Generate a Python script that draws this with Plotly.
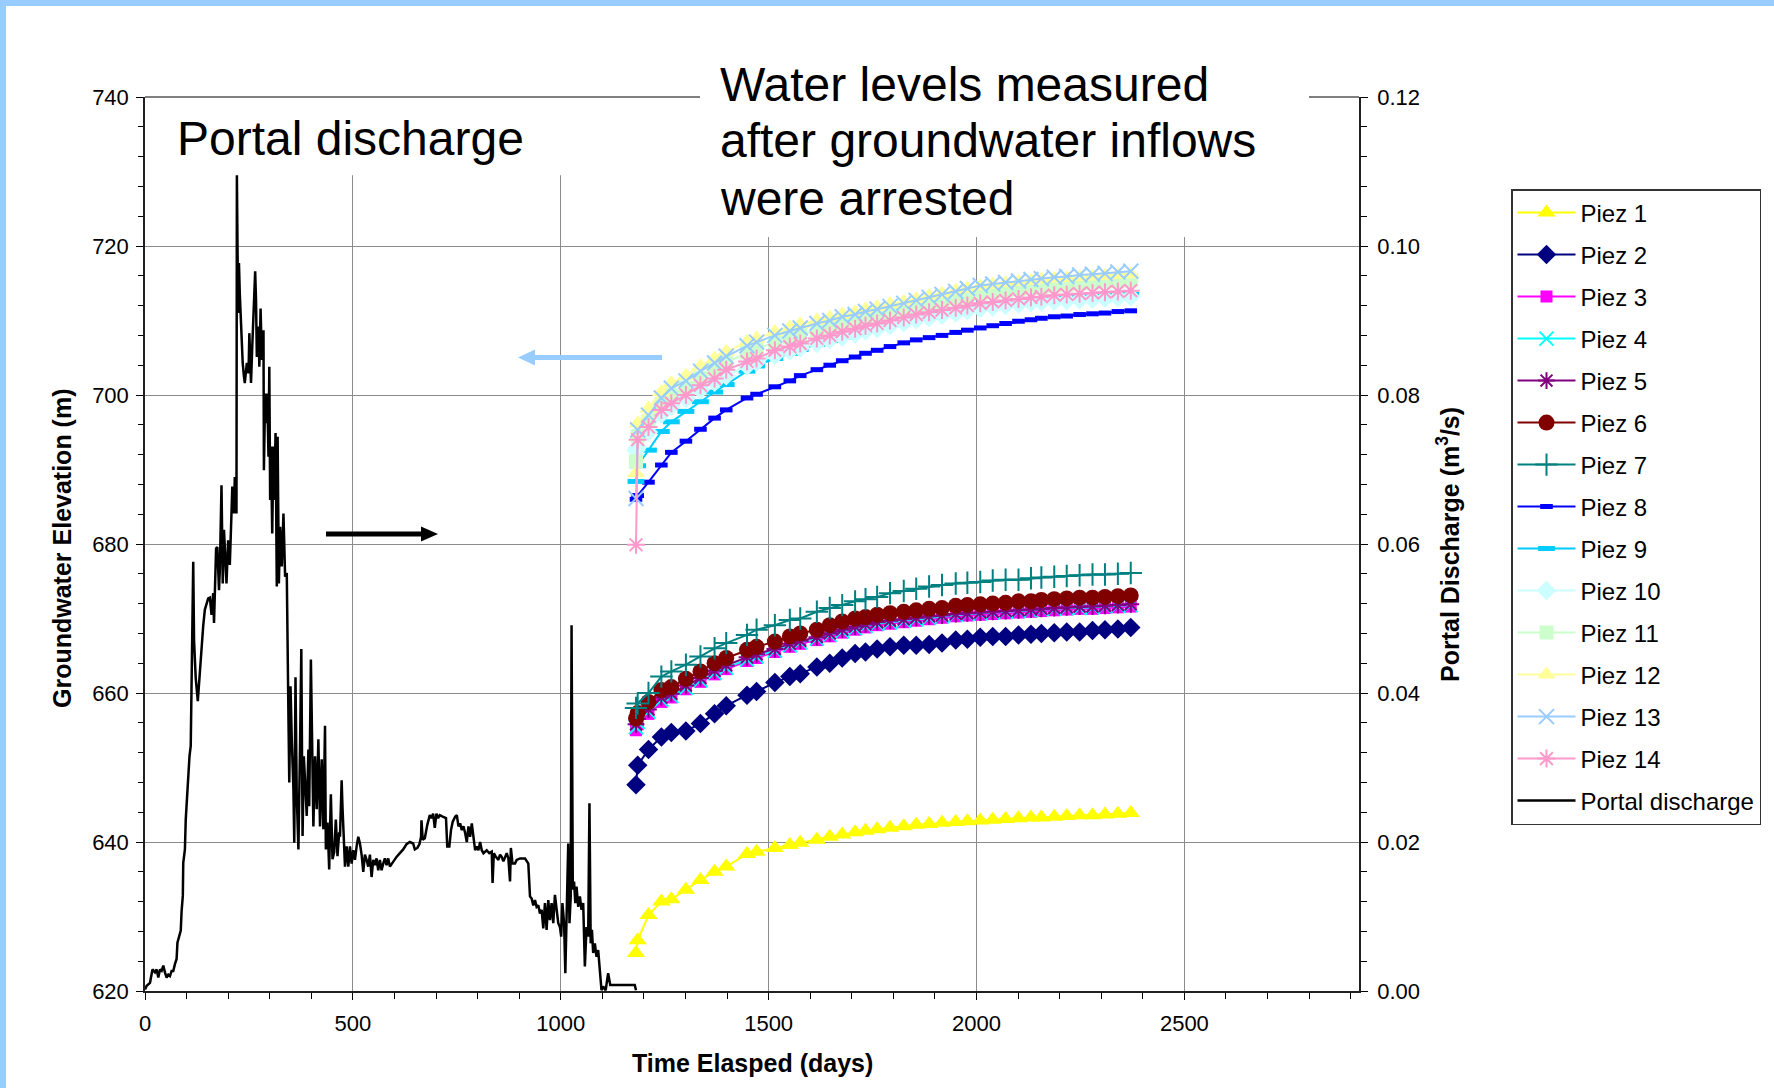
import plotly.graph_objects as go

# ---- Portal discharge record (days since start, m^3/s) ----
pd_days = [
    0, 4, 12, 18, 24, 28, 32, 36, 40, 44, 48, 52, 56, 60, 64, 68, 72, 76, 78, 83, 86, 88, 91, 92, 96, 98, 102, 104, 107, 110, 112, 115,
    116, 118, 122, 127, 132, 137, 140, 144, 148, 152, 156, 160, 164, 166, 171, 174, 178, 180, 184, 187, 190, 193, 196, 200, 204, 208, 210, 214, 216, 220,
    221, 224, 226, 228, 232, 235, 238, 240, 245, 249, 251, 255, 258, 261, 265, 267, 269, 273, 275, 278, 281, 285, 286, 289, 291, 294, 297, 299, 301, 303,
    306, 309, 311, 314, 317, 319, 322, 325, 329, 333, 337, 341,
    342, 345, 347, 350, 353, 357, 359, 362, 365, 369, 373, 376, 379, 382, 386, 389, 393, 395, 399, 402, 405, 409, 413, 417, 421, 425, 429, 433, 435, 439,
    443, 447, 451, 455, 459, 463, 467,
    469, 473, 475, 479, 481, 485, 489, 493, 497, 501,
    505, 509, 513, 517, 521, 525, 529, 533, 537, 541,
    545, 549, 553, 557, 561, 565, 569, 573, 577, 581,
    585, 589, 597, 605, 613, 621, 629, 637, 645, 649,
    655, 660, 664, 665, 668, 673, 679, 685, 689, 693,
    697, 701, 705, 709, 716, 724, 727, 732, 736, 740,
    746, 750, 754, 758, 762, 766, 770, 774, 778, 782,
    786, 790, 794, 798, 802, 806, 810, 814, 822, 828,
    834, 836, 839, 844, 850, 854, 858, 862, 866, 870,
    874, 878, 880, 884, 890, 894, 902, 914, 922, 926,
    930, 934, 938, 942, 946, 950, 954, 958, 962, 966,
    970, 974, 978, 982, 986, 990, 994, 998, 1001, 1004,
    1008, 1011, 1014, 1018, 1021, 1024, 1026, 1029, 1032, 1035,
    1038, 1042, 1046, 1050, 1054, 1058, 1062, 1066, 1069, 1072,
    1075, 1078, 1082, 1086, 1090, 1094, 1098, 1102, 1108, 1114,
    1119, 1126, 1150, 1178, 1181,
]
pd_flow = [
    .0002, .0007, .0011, .0029, .0025, .0029, .0018, .0029, .0027, .0034, .0025, .0018, .0022, .0020, .0027, .0027, .0036, .0043, .0065, .0076, .0081, .0107, .0128, .0172, .0190, .0230, .0271, .0289, .0315, .0329, .0405, .0472,
    .0576, .0470, .0420, .0389, .0432, .0472, .0490, .0512, .0521, .0527, .0528, .0505, .0534, .0494, .0594, .0596, .0538, .0565, .0679, .0547, .0619, .0579, .0547, .0605, .0572, .0641, .0677, .0641, .0690, .0641,
    .1095, .0910, .0977, .0936, .0869, .0843, .0825, .0816, .0843, .0829, .0883, .0816, .0865, .0910, .0966, .0928, .0851, .0892, .0838, .0916, .0847, .0887, .0699, .0802, .0762, .0802, .0717, .0838, .0659, .0731,
    .0614, .0731, .0659, .0749, .0543, .0744, .0547, .0623, .0570, .0641, .0556, .0561,
    .0481, .0370, .0280, .0409, .0338, .0271, .0199, .0421, .0262, .0190, .0333, .0459, .0208, .0315, .0271, .0235, .0324, .0248, .0445, .0338, .0221, .0315, .0244, .0338, .0221, .0311, .0217, .0356, .0190, .0226,
    .0163, .0264, .0177, .0186, .0230, .0181, .0213,
    .0207, .0283, .0247, .0185, .0167, .0194, .0167, .0194, .0171, .0189,
    .0176, .0194, .0207, .0198, .0183, .0160, .0183, .0176, .0167, .0183,
    .0153, .0176, .0169, .0178, .0162, .0176, .0162, .0171, .0178, .0169,
    .0178, .0167, .0174, .0180, .0185, .0190, .0197, .0200, .0198, .0190,
    .0192, .0197, .0207, .0229, .0203, .0205, .0223, .0236, .0232, .0238,
    .0219, .0238, .0232, .0236, .0234, .0232, .0194, .0194, .0216, .0227,
    .0234, .0236, .0221, .0225, .0216, .0221, .0212, .0200, .0221, .0207,
    .0225, .0203, .0189, .0194, .0189, .0200, .0189, .0185, .0189, .0185,
    .0187, .0145, .0185, .0180, .0176, .0183, .0180, .0174, .0180, .0185,
    .0178, .0147, .0192, .0171, .0171, .0176, .0178, .0178, .0171, .0127,
    .0124, .0115, .0122, .0113, .0115, .0104, .0109, .0084, .0118, .0082,
    .0122, .0095, .0118, .0091, .0129, .0113, .0091, .0086, .0073, .0118,
    .0091, .0024, .0113, .0198, .0091, .0127, .0491, .0136, .0147, .0118,
    .0140, .0113, .0127, .0109, .0118, .0033, .0086, .0073, .0252, .0064,
    .0082, .0051, .0064, .0046, .0055, .0028, .0001, .0006, .0001, .0024,
    .0008, .0008, .0008, .0008, .0001,
]

# ---- Piezometer readings after inflows were arrested (days, elevation m) ----
piez_days = [1181, 1185, 1211, 1242, 1266, 1301, 1336, 1370, 1398, 1448,
             1471, 1515, 1551, 1576, 1616, 1647, 1677, 1708, 1733, 1761,
             1792, 1825, 1855, 1886, 1917, 1950, 1978, 2009, 2039, 2070,
             2101, 2131, 2156, 2187, 2217, 2248, 2279, 2309, 2340, 2371]

piez1 = [625.1, 626.8, 630.2, 632.0, 632.3, 633.6, 634.9, 636.0, 636.7, 638.4,
         638.7, 639.2, 639.6, 639.9, 640.3, 640.7, 641.0, 641.3, 641.5, 641.7,
         641.9, 642.1, 642.3, 642.4, 642.6, 642.7, 642.8, 642.9, 643.0, 643.1,
         643.2, 643.3, 643.3, 643.4, 643.5, 643.6, 643.6, 643.7, 643.8, 643.9]
piez2 = [647.7, 650.3, 652.4, 654.1, 654.7, 654.9, 655.9, 657.2, 658.3, 659.7,
         660.2, 661.4, 662.2, 662.6, 663.5, 664.0, 664.7, 665.3, 665.5, 665.9,
         666.2, 666.4, 666.4, 666.5, 666.7, 667.1, 667.2, 667.5, 667.6, 667.6,
         667.8, 667.9, 668.0, 668.1, 668.2, 668.2, 668.4, 668.5, 668.6, 668.8]
piez3 = [655.0, 655.8, 657.2, 658.8, 659.4, 660.5, 661.5, 662.5, 663.2, 664.3,
         664.7, 665.5, 666.2, 666.6, 667.1, 667.6, 668.1, 668.5, 668.8, 669.1,
         669.3, 669.5, 669.7, 669.9, 670.1, 670.3, 670.4, 670.5, 670.6, 670.7,
         670.8, 670.9, 671.0, 671.1, 671.2, 671.3, 671.3, 671.4, 671.5, 671.6]
piez4 = [655.4, 656.1, 657.5, 659.1, 659.6, 660.7, 661.7, 662.7, 663.4, 664.5,
         664.9, 665.7, 666.4, 666.8, 667.3, 667.8, 668.3, 668.7, 669.0, 669.3,
         669.5, 669.7, 669.9, 670.1, 670.3, 670.5, 670.6, 670.7, 670.8, 670.9,
         671.0, 671.1, 671.2, 671.3, 671.4, 671.4, 671.5, 671.6, 671.7, 671.8]
piez5 = [655.8, 656.5, 657.8, 659.4, 659.9, 661.0, 662.0, 663.0, 663.7, 664.8,
         665.2, 665.9, 666.6, 667.0, 667.5, 668.0, 668.5, 668.9, 669.2, 669.5,
         669.7, 669.9, 670.1, 670.3, 670.4, 670.6, 670.7, 670.8, 670.9, 671.0,
         671.1, 671.2, 671.3, 671.4, 671.5, 671.6, 671.6, 671.7, 671.8, 671.9]
piez6 = [656.6, 657.3, 658.8, 660.4, 660.8, 661.9, 662.9, 664.0, 664.7, 665.8,
         666.2, 666.9, 667.6, 668.0, 668.5, 669.1, 669.6, 670.0, 670.2, 670.5,
         670.7, 670.9, 671.1, 671.3, 671.4, 671.7, 671.8, 671.9, 672.0, 672.1,
         672.3, 672.3, 672.5, 672.6, 672.7, 672.8, 672.8, 672.9, 673.0, 673.1]
piez7 = [658.0, 658.6, 660.0, 662.2, 662.9, 663.8, 664.9, 666.0, 666.7, 667.8,
         668.5, 669.1, 669.8, 670.0, 670.9, 671.4, 671.8, 672.3, 672.6, 672.9,
         673.4, 673.7, 674.0, 674.3, 674.5, 674.7, 674.8, 674.9, 675.1, 675.2,
         675.2, 675.4, 675.5, 675.6, 675.7, 675.8, 675.9, 675.9, 676.0, 676.1]
piez8 = [686.0, 686.5, 688.3, 690.6, 692.3, 693.8, 695.4, 696.9, 698.0, 699.6,
         700.1, 701.1, 701.9, 702.6, 703.4, 704.0, 704.6, 705.1, 705.6, 706.0,
         706.5, 707.0, 707.4, 707.7, 708.0, 708.4, 708.7, 709.0, 709.3, 709.6,
         709.9, 710.1, 710.3, 710.5, 710.6, 710.8, 710.9, 711.0, 711.2, 711.3]
piez9 = [688.4, 690.5, 692.6, 695.1, 696.4, 697.8, 699.1, 700.4, 701.4, 703.2,
         703.9, 704.9, 705.6, 706.1, 706.8, 707.3, 707.8, 708.2, 708.6, 709.0,
         709.4, 709.8, 710.2, 710.5, 710.8, 711.1, 711.4, 711.7, 711.9, 712.1,
         712.3, 712.5, 712.7, 712.8, 713.0, 713.1, 713.2, 713.3, 713.4, 713.5]
piez10 = [692.6, 693.0, 695.0, 697.4, 698.5, 699.5, 700.7, 701.7, 702.6, 703.9,
          704.4, 705.3, 705.9, 706.3, 706.9, 707.4, 707.8, 708.2, 708.6, 708.9,
          709.3, 709.7, 710.1, 710.4, 710.7, 711.0, 711.3, 711.6, 711.8, 712.0,
          712.2, 712.4, 712.5, 712.6, 712.7, 712.8, 712.9, 713.0, 713.1, 713.2]
piez11 = [691.1, 694.5, 696.5, 698.8, 700.0, 701.0, 702.3, 703.4, 704.3, 705.7,
          706.2, 707.1, 707.7, 708.1, 708.7, 709.1, 709.6, 709.9, 710.3, 710.6,
          711.0, 711.4, 711.8, 712.2, 712.5, 712.9, 713.2, 713.6, 713.8, 714.0,
          714.2, 714.4, 714.5, 714.7, 714.8, 715.0, 715.1, 715.2, 715.3, 715.4]
piez12 = [689.5, 696.2, 698.2, 700.4, 701.6, 702.6, 703.9, 704.9, 705.8, 707.1,
          707.6, 708.5, 709.1, 709.5, 710.0, 710.4, 710.8, 711.1, 711.5, 711.8,
          712.2, 712.5, 712.9, 713.3, 713.6, 714.0, 714.3, 714.6, 714.8, 715.0,
          715.2, 715.3, 715.5, 715.6, 715.7, 715.8, 715.9, 716.0, 716.1, 716.2]
piez13 = [686.1, 695.3, 697.3, 699.6, 700.9, 701.9, 703.2, 704.3, 705.2, 706.6,
          707.1, 708.0, 708.6, 709.0, 709.6, 710.0, 710.5, 710.8, 711.2, 711.5,
          711.9, 712.3, 712.7, 713.1, 713.5, 713.9, 714.3, 714.7, 714.9, 715.1,
          715.3, 715.5, 715.6, 715.8, 715.9, 716.1, 716.2, 716.3, 716.5, 716.6]
piez14 = [679.9, 694.0, 695.7, 698.0, 698.9, 700.0, 701.3, 702.2, 703.4, 704.5,
          704.9, 706.0, 706.5, 706.9, 707.6, 708.0, 708.5, 708.9, 709.3, 709.6,
          710.0, 710.4, 710.8, 711.1, 711.4, 711.7, 712.0, 712.3, 712.5, 712.7,
          712.9, 713.1, 713.2, 713.4, 713.5, 713.6, 713.7, 713.8, 713.9, 714.0]

piez_names = ["Piez %d" % i for i in range(1, 15)]
piez_levels = [piez1, piez2, piez3, piez4, piez5, piez6, piez7,
               piez8, piez9, piez10, piez11, piez12, piez13, piez14]

# marker styling for each piezometer: (colour, symbol, size, outline width)
piez_styles = [
    ("#FFFF00", "triangle-up", 16, 0),
    ("#000080", "diamond", 15, 0),
    ("#FF00FF", "square", 12, 0),
    ("#00FFFF", "x-thin-open", 14, 2),
    ("#800080", "asterisk-open", 14, 2),
    ("#800000", "circle", 16, 0),
    ("#008080", "cross-thin-open", 16, 2),
    ("#0000FF", "line-ew-open", 9, 5),
    ("#00CCFF", "line-ew-open", 12, 5),
    ("#CCFFFF", "diamond", 15, 0),
    ("#CCFFCC", "square", 14, 0),
    ("#FFFF99", "triangle-up", 16, 0),
    ("#99CCFF", "x-thin-open", 15, 2),
    ("#FF99CC", "asterisk-open", 15, 2),
]

FONT = "Liberation Sans, Arial, sans-serif"

# plot-area geometry in page pixels, used to place the decorations
L, R, T, B = 145, 1359, 97, 991
W, H = 1774, 1088


def px(xp):
    return (xp - L) / (R - L)


def py(yp):
    return (B - yp) / (B - T)


fig = go.Figure()

for name, levels, (col, sym, size, lw) in zip(piez_names, piez_levels, piez_styles):
    marker = dict(symbol=sym, size=size, color=col)
    if lw:
        marker["line"] = dict(color=col, width=lw)
    else:
        marker["line"] = dict(width=0)
    fig.add_trace(go.Scatter(
        x=piez_days, y=levels, name=name, mode="lines+markers",
        line=dict(color=col, width=2), marker=marker,
        legendgroup=name, yaxis="y",
    ))

fig.add_trace(go.Scatter(
    x=pd_days, y=pd_flow, name="Portal discharge", mode="lines",
    line=dict(color="black", width=2.5), yaxis="y2", legendgroup="pd",
))

tick_font = dict(family=FONT, size=22, color="black")

fig.update_layout(
    width=W, height=H,
    margin=dict(l=L, r=W - R, t=T, b=H - B, pad=0),
    paper_bgcolor="white", plot_bgcolor="white",
    font=dict(family=FONT, color="black"),
    xaxis=dict(
        range=[0, 2920], tickvals=[0, 500, 1000, 1500, 2000, 2500],
        ticks="outside", ticklen=7, tickwidth=1, tickcolor="black",
        ticklabelstandoff=5,
        showline=True, linecolor="#202020", linewidth=1.5,
        showgrid=True, gridcolor="#8c8c8c", gridwidth=1, zeroline=False,
        tickfont=tick_font,
        minor=dict(dtick=100, tick0=0, ticks="outside", ticklen=6, tickcolor="black", showgrid=False),
    ),
    yaxis=dict(
        range=[620, 740], tick0=620, dtick=20,
        ticks="outside", ticklen=7, tickwidth=1, tickcolor="black",
        ticklabelstandoff=3,
        showline=True, linecolor="#202020", linewidth=1.5,
        showgrid=True, gridcolor="#8c8c8c", gridwidth=1, zeroline=False,
        tickfont=tick_font,
        minor=dict(dtick=4, tick0=620, ticks="outside", ticklen=5, tickcolor="black", showgrid=False),
    ),
    yaxis2=dict(
        range=[0, 0.12], tick0=0, dtick=0.02, tickformat=".2f",
        overlaying="y", side="right", anchor="x",
        ticks="outside", ticklen=7, tickwidth=1, tickcolor="black",
        ticklabelstandoff=5,
        showline=True, linecolor="#202020", linewidth=1.5,
        showgrid=False, zeroline=False, tickfont=tick_font,
        minor=dict(dtick=0.004, tick0=0, ticks="outside", ticklen=6, tickcolor="black"),
    ),
    legend=dict(
        x=px(1511), y=py(189), xanchor="left", yanchor="top",
        bgcolor="white", bordercolor="#333333", borderwidth=1.5,
        font=dict(family=FONT, size=24, color="black"),
        tracegroupgap=7.8, itemwidth=58,
    ),
)

shapes = []
# white text boxes hiding the grid behind the two captions
shapes.append(dict(type="rect", xref="x", yref="y", x0=-20, x1=1150, y0=729.5, y1=745,
                   fillcolor="white", line=dict(width=0), layer="between"))
shapes.append(dict(type="rect", xref="x", yref="y", x0=1335, x1=2800, y0=721.2, y1=745,
                   fillcolor="white", line=dict(width=0), layer="between"))
# top edge of the plot area, interrupted by the caption box
shapes.append(dict(type="line", xref="paper", yref="paper", x0=0, x1=px(700), y0=1, y1=1,
                   line=dict(color="#808080", width=2)))
shapes.append(dict(type="line", xref="paper", yref="paper", x0=px(1309), x1=1, y0=1, y1=1,
                   line=dict(color="#808080", width=2)))
# black arrow pointing to the discharge axis
shapes.append(dict(type="line", xref="paper", yref="paper", x0=px(326), x1=px(424), y0=py(534), y1=py(534),
                   line=dict(color="black", width=5)))
shapes.append(dict(type="path", xref="paper", yref="paper",
                   path="M %f %f L %f %f L %f %f Z" % (px(438), py(534), px(421), py(526.5), px(421), py(541.5)),
                   fillcolor="black", line=dict(width=0)))
# light blue arrow pointing to the elevation axis
shapes.append(dict(type="line", xref="paper", yref="paper", x0=px(662), x1=px(532), y0=py(357.5), y1=py(357.5),
                   line=dict(color="#99CCFF", width=5)))
shapes.append(dict(type="path", xref="paper", yref="paper",
                   path="M %f %f L %f %f L %f %f Z" % (px(518), py(357.5), px(535), py(349.5), px(535), py(365.5)),
                   fillcolor="#99CCFF", line=dict(width=0)))
# light blue frame of the slide
shapes.append(dict(type="rect", xref="paper", yref="paper", x0=px(0), x1=px(W), y0=py(6), y1=py(0),
                   fillcolor="#99CCFF", line=dict(width=0)))
shapes.append(dict(type="rect", xref="paper", yref="paper", x0=px(0), x1=px(6), y0=py(H), y1=py(0),
                   fillcolor="#99CCFF", line=dict(width=0)))
fig.update_layout(shapes=shapes)

big = dict(family=FONT, size=48, color="black")
title_font = dict(family=FONT, size=25, color="black")
annotations = [
    dict(text="Portal discharge", x=px(174.5), y=py(138.5), xanchor="left", yanchor="middle", font=big),
    dict(text="Water levels measured", x=px(717.5), y=py(84), xanchor="left", yanchor="middle", font=big),
    dict(text="after groundwater inflows", x=px(717.5), y=py(141), xanchor="left", yanchor="middle", font=big),
    dict(text="were arrested", x=px(717.5), y=py(198), xanchor="left", yanchor="middle", font=big),
    dict(text="<b>Groundwater Elevation (m)</b>", x=px(62), y=py(549), textangle=-90,
         xanchor="center", yanchor="middle", font=title_font),
    dict(text="<b>Portal Discharge (m<sup>3</sup>/s)</b>", x=px(1448), y=py(545), textangle=-90,
         xanchor="center", yanchor="middle", font=title_font),
    dict(text="<b>Time Elasped (days)</b>", x=0.5, y=py(1063),
         xanchor="center", yanchor="middle", font=title_font),
]
for a in annotations:
    a.update(xref="paper", yref="paper", showarrow=False)
fig.update_layout(annotations=annotations)

fig.write_html("out.html")
